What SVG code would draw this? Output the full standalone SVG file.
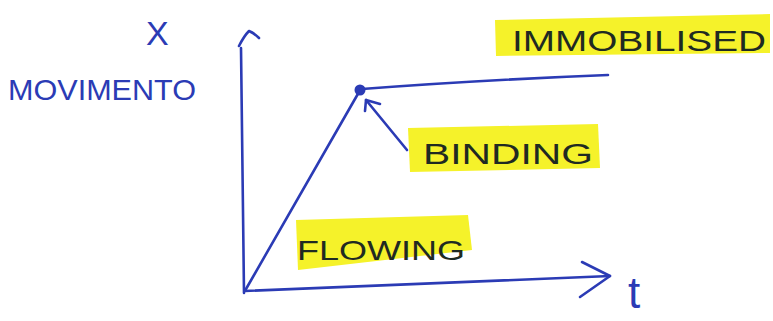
<svg xmlns="http://www.w3.org/2000/svg" width="773" height="321" viewBox="0 0 773 321">
<style>
.ink{fill:none;stroke:#2b3bb5;stroke-width:2.6;stroke-linecap:round;stroke-linejoin:round}
.hl{fill:#f5f22a}
.lbl{font-family:"Liberation Sans",Arial,sans-serif;fill:#1f2a22;font-weight:normal}
.blue{font-family:"Liberation Sans",Arial,sans-serif;fill:#2b3bb5}
</style>
<rect width="773" height="321" fill="#ffffff"/>
<g id="axes">
<path class="ink" d="M244,293 L241,48"/>
<path class="ink" d="M239,46 Q244,36 249,31 Q254,33 259,38"/>
<path class="ink" d="M245,291 Q420,284 610,276"/>
<path class="ink" d="M582,262 L610,276 L580,297"/>
</g>
<g id="connectors">
<path class="ink" d="M246,289 L359,92"/>
<path class="ink" d="M362,89 Q480,80 608,75"/>
<path class="ink" d="M407,150 L366,100"/>
<path class="ink" d="M365,111 L366,100 L380,104"/>
</g>
<g id="binding-point">
<circle cx="360" cy="90" r="5.5" fill="#2b3bb5"/>
</g>
<g id="label-x">
<text class="blue" x="146" y="45" font-size="34">X</text>
</g>
<g id="label-movimento">
<text class="blue" x="8" y="100" font-size="30" textLength="188" lengthAdjust="spacingAndGlyphs">MOVIMENTO</text>
</g>
<g id="label-t">
<text class="blue" x="628" y="308" font-size="44">t</text>
</g>
<g id="node-immobilised">
<polygon class="hl" points="495,20 770,14 770,53 496,56"/>
<text class="lbl" x="512" y="51" font-size="30" textLength="254" lengthAdjust="spacingAndGlyphs">IMMOBILISED</text>
</g>
<g id="node-binding">
<polygon class="hl" points="408,128 598,124 600,168 410,172"/>
<text class="lbl" x="423" y="164" font-size="30" textLength="170" lengthAdjust="spacingAndGlyphs">BINDING</text>
</g>
<g id="node-flowing">
<polygon class="hl" points="296,220 468,215 472,250 298,270"/>
<text class="lbl" x="297" y="260" font-size="28" textLength="168" lengthAdjust="spacingAndGlyphs">FLOWING</text>
</g>
</svg>
